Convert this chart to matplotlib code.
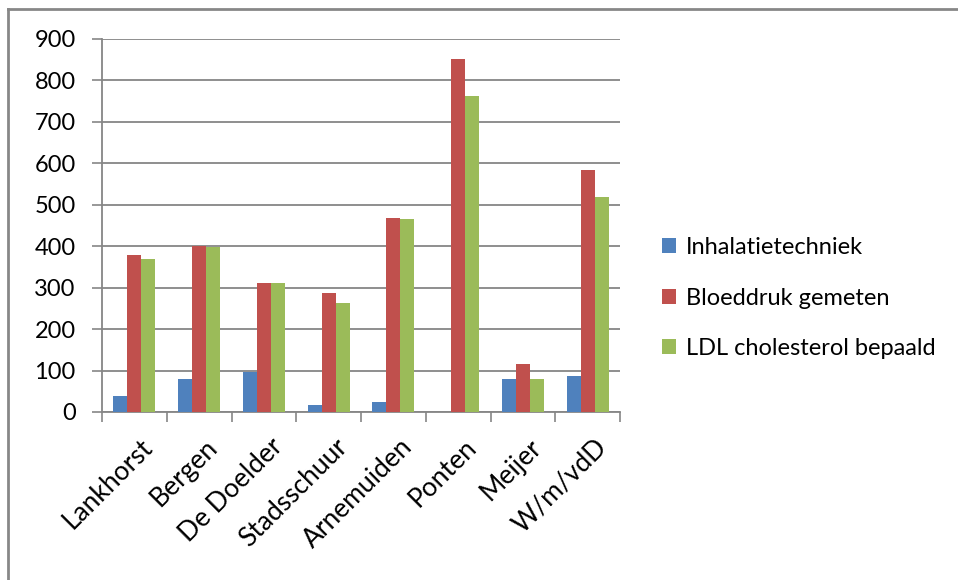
import matplotlib
matplotlib.use("Agg")
import matplotlib.pyplot as plt
from matplotlib.lines import Line2D
import matplotlib.transforms as mtransforms
import numpy as np

categories = ["Lankhorst", "Bergen", "De Doelder", "Stadsschuur", "Arnemuiden", "Ponten", "Meijer", "W/m/vdD"]
inhalatie = [39, 80, 97, 17, 24, 0, 80, 87]
bloeddruk = [379, 400, 311, 287, 468, 852, 116, 584]
ldl = [369, 398, 311, 263, 466, 763, 80, 519]
series_names = ["Inhalatietechniek", "Bloeddruk gemeten", "LDL cholesterol bepaald"]
colors = ["#4F81BD", "#C0504D", "#9BBB59"]
yticks = [0, 100, 200, 300, 400, 500, 600, 700, 800, 900]

plt.rcParams['font.family'] = ['Lato', 'DejaVu Sans']
grid_col = "#868686"

fig = plt.figure(figsize=(9.58, 5.8), dpi=100)
ax = fig.add_axes([102/958, 1-412/580, (620-102)/958, (412-38.7)/580])

x = np.arange(len(categories))
w = 0.217
handles = []
for i, (vals, name, c) in enumerate(zip([inhalatie, bloeddruk, ldl], series_names, colors)):
    b = ax.bar(x + (i-1)*w, vals, width=w, color=c, label=name, zorder=3)
    handles.append(b)

ax.set_xlim(-0.5, len(categories)-0.5)
ax.set_ylim(0, 900)
ax.set_yticks(yticks)
ax.set_yticklabels([str(v) for v in yticks], fontsize=17)
ax.yaxis.grid(True, color=grid_col, linewidth=1.3, zorder=0)
ax.set_axisbelow(True)
ax.tick_params(axis='y', length=7, width=1.2, color=grid_col, pad=12)

ax.set_xticks(x)
ax.set_xticklabels(categories, rotation=45, ha='right', va='top', rotation_mode='anchor', fontsize=19)
ax.tick_params(axis='x', which='major', length=0, pad=16)
offset = mtransforms.ScaledTranslation(6/100, 0, fig.dpi_scale_trans)
for lbl in ax.get_xticklabels():
    lbl.set_transform(lbl.get_transform() + offset)
ax.set_xticks(np.arange(len(categories)+1) - 0.5, minor=True)
ax.tick_params(axis='x', which='minor', length=7, width=1.2, color=grid_col)

for s in ['top', 'right']:
    ax.spines[s].set_visible(False)
for s in ['left', 'bottom']:
    ax.spines[s].set_color(grid_col)
    ax.spines[s].set_linewidth(1.3)

leg = fig.legend(handles=handles, labels=series_names, loc='upper left',
                 bbox_to_anchor=(641/958, 1-216/580), frameon=False, fontsize=17,
                 handlelength=0.6, handleheight=0.6, handletextpad=0.4, labelspacing=1.25)

# outer chart border (left and top visible)
fig.add_artist(Line2D([8/958, 8/958], [0, 1-9/580], color="#878787", linewidth=2, transform=fig.transFigure))
fig.add_artist(Line2D([8/958, 1], [1-9/580, 1-9/580], color="#878787", linewidth=2, transform=fig.transFigure))

fig.savefig("out.png", dpi=100)
